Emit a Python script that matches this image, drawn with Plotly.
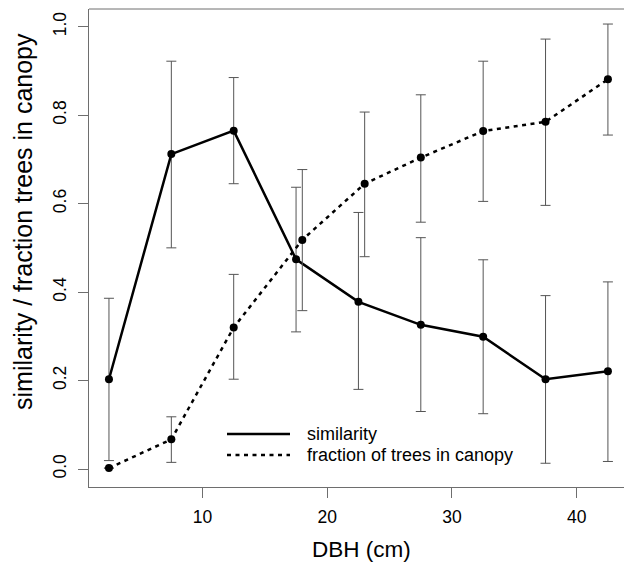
import plotly.graph_objects as go

# ---- data ----
dbh_sim = [2.5, 7.5, 12.5, 17.5, 22.5, 27.5, 32.5, 37.5, 42.5]
similarity = [0.203, 0.712, 0.765, 0.474, 0.378, 0.326, 0.299, 0.203, 0.221]
sim_lower = [0.019, 0.500, 0.645, 0.310, 0.180, 0.130, 0.125, 0.013, 0.017]
sim_upper = [0.386, 0.922, 0.885, 0.637, 0.580, 0.523, 0.473, 0.392, 0.423]

dbh_frac = [2.5, 7.5, 12.5, 18.0, 23.0, 27.5, 32.5, 37.5, 42.5]
canopy = [0.002, 0.067, 0.320, 0.518, 0.645, 0.704, 0.764, 0.785, 0.881]
can_lower = [0.002, 0.015, 0.203, 0.358, 0.480, 0.558, 0.605, 0.596, 0.755]
can_upper = [0.002, 0.118, 0.440, 0.677, 0.807, 0.846, 0.922, 0.972, 1.006]

x_ticks = [10, 20, 30, 40]
y_ticks = [0.0, 0.2, 0.4, 0.6, 0.8, 1.0]
y_ticklabels = ["0.0", "0.2", "0.4", "0.6", "0.8", "1.0"]

x_title = "DBH (cm)"
y_title = "similarity / fraction trees in canopy"
legend_labels = ["similarity", "fraction of trees in canopy"]

# ---- style ----
FONT = "Liberation Sans, Arial, sans-serif"
W, H = 624, 566
L, R, T, B = 89, 0, 9, 79
PW, PH = W - L - R, H - T - B
AXIS_COL = "#6e6e6e"
ERR_COL = "#555555"
DOT = "4px,4.5px"


def px(xp):
    return (xp - L) / PW


def py(yp):
    return (H - B - yp) / PH


fig = go.Figure()

fig.add_trace(go.Scatter(
    x=dbh_sim, y=similarity, mode="lines+markers",
    line=dict(color="black", width=2.5),
    marker=dict(color="black", size=8),
    error_y=dict(type="data", symmetric=False,
                 array=[u - v for u, v in zip(sim_upper, similarity)],
                 arrayminus=[v - lo for v, lo in zip(similarity, sim_lower)],
                 color=ERR_COL, thickness=1, width=5),
    showlegend=False, cliponaxis=False,
))

fig.add_trace(go.Scatter(
    x=dbh_frac, y=canopy, mode="lines+markers",
    line=dict(color="black", width=2.5, dash=DOT),
    marker=dict(color="black", size=8),
    error_y=dict(type="data", symmetric=False,
                 array=[u - v for u, v in zip(can_upper, canopy)],
                 arrayminus=[v - lo for v, lo in zip(canopy, can_lower)],
                 color=ERR_COL, thickness=1, width=5),
    showlegend=False, cliponaxis=False,
))

shapes = [
    # top border of the box
    dict(type="line", xref="paper", yref="paper", x0=0, x1=1, y0=1, y1=1,
         line=dict(color=AXIS_COL, width=1)),
    # legend samples
    dict(type="line", xref="paper", yref="paper", x0=px(227), x1=px(290),
         y0=py(434), y1=py(434), line=dict(color="black", width=2.5)),
    dict(type="line", xref="paper", yref="paper", x0=px(227), x1=px(290),
         y0=py(455), y1=py(455), line=dict(color="black", width=2.5, dash=DOT)),
]

annotations = [
    dict(text=legend_labels[0], xref="paper", yref="paper", x=px(305), y=py(434),
         xanchor="left", yanchor="middle", showarrow=False,
         font=dict(family=FONT, size=18, color="black")),
    dict(text=legend_labels[1], xref="paper", yref="paper", x=px(305), y=py(455),
         xanchor="left", yanchor="middle", showarrow=False,
         font=dict(family=FONT, size=18, color="black")),
    dict(text=x_title, xref="paper", yref="paper", x=px(361), y=py(549),
         xanchor="center", yanchor="middle", showarrow=False,
         font=dict(family=FONT, size=22.5, color="black")),
    dict(text=y_title, xref="paper", yref="paper", x=px(23), y=py(222),
         xanchor="center", yanchor="middle", showarrow=False, textangle=-90,
         font=dict(family=FONT, size=25, color="black")),
]

fig.update_layout(
    width=W, height=H,
    margin=dict(l=L, r=R, t=T, b=B, pad=0),
    paper_bgcolor="white", plot_bgcolor="white",
    font=dict(family=FONT, size=18, color="black"),
    shapes=shapes, annotations=annotations,
    xaxis=dict(range=[0.9, 43.79], tickvals=x_ticks, ticks="outside", ticklen=10,
               tickcolor=AXIS_COL, tickwidth=1, showline=True, linecolor=AXIS_COL,
               linewidth=1, showgrid=False, zeroline=False,
               tickfont=dict(family=FONT, size=17.5, color="black"),
               ticklabelstandoff=4),
    yaxis=dict(range=[-0.0407, 1.0400], tickvals=y_ticks, ticktext=y_ticklabels,
               ticks="outside", ticklen=10, tickcolor=AXIS_COL, tickwidth=1,
               showline=True, linecolor=AXIS_COL, linewidth=1, showgrid=False,
               zeroline=False, tickangle=-90,
               tickfont=dict(family=FONT, size=17.5, color="black"),
               ticklabelstandoff=5),
)

fig.write_html(
    "out.html",
    config={"displayModeBar": False},
    post_script="document.body.style.margin='0';document.body.style.overflow='hidden';",
)
